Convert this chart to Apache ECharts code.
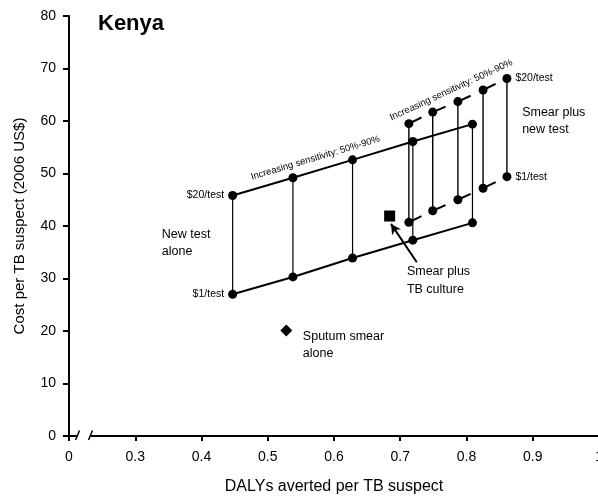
<!DOCTYPE html>
<html><head><meta charset="utf-8">
<script src="https://cdn.jsdelivr.net/npm/echarts@6/dist/echarts.min.js"></script>
<style>html,body{margin:0;padding:0;background:#fff}#c{width:598px;height:497px}</style>
</head><body><div id="c"></div>
<script>
// ---- data ----
const xTickLabels = {'0.2':'0','1.0':'1'};
const newTestX      = [0.447, 0.538, 0.628, 0.719, 0.809];
const newTestCost20 = [45.8, 49.2, 52.6, 56.1, 59.4];
const newTestCost1  = [27.0, 30.3, 33.9, 37.3, 40.6];
const smearNewX      = [0.713, 0.749, 0.787, 0.825, 0.861];
const smearNewCost20 = [59.5, 61.7, 63.7, 65.9, 68.1];
const smearNewCost1  = [40.7, 42.9, 45.0, 47.2, 49.4];
const smearCultureX = [0.684], smearCultureCost = [41.9];
const sputumX = [0.528], sputumCost = [20.1];

const FONT = '"Liberation Sans", Arial, Helvetica, sans-serif';
const zip = (xs, ys) => xs.map((x, i) => [x, ys[i]]);
const chart = echarts.init(document.getElementById('c'));

const series = [];
// vertical connectors (new test)
newTestX.forEach((x, i) => series.push({
  type: 'line', data: [[x, newTestCost1[i]], [x, newTestCost20[i]]], symbol: 'none',
  lineStyle: { color: '#000', width: 1.2 }, z: 2, silent: true
}));
// vertical connectors (smear + new test)
smearNewX.forEach((x, i) => series.push({
  type: 'line', data: [[x, smearNewCost1[i]], [x, smearNewCost20[i]]], symbol: 'none',
  lineStyle: { color: '#000', width: 1.4 }, z: 2, silent: true
}));
// dashed partial segments (smear + new test)
[smearNewCost20, smearNewCost1].forEach(ys => {
  for (let i = 0; i < smearNewX.length - 1; i++) {
    series.push({
      type: 'line', data: [[smearNewX[i], ys[i]], [smearNewX[i + 1], ys[i + 1]]], symbol: 'none',
      lineStyle: { color: '#000', width: 2, type: [14, 100] }, z: 3, silent: true
    });
  }
});
const lbl = (txt, pos) => ({ show: true, position: pos, formatter: txt, fontSize: 10.5, fontFamily: FONT, color: '#000', distance: 4 });
// new test lines
series.push({
  type: 'line', data: zip(newTestX, newTestCost20).map((d, i) => i === 0 ? { value: d, label: lbl('$20/test', 'left') } : d),
  symbol: 'circle', symbolSize: 9, itemStyle: { color: '#000' }, lineStyle: { color: '#000', width: 2 }, z: 5, silent: true
});
series.push({
  type: 'line', data: zip(newTestX, newTestCost1).map((d, i) => i === 0 ? { value: d, label: lbl('$1/test', 'left') } : d),
  symbol: 'circle', symbolSize: 9, itemStyle: { color: '#000' }, lineStyle: { color: '#000', width: 2 }, z: 5, silent: true
});
// smear + new test points
const last = smearNewX.length - 1;
series.push({
  type: 'scatter', data: zip(smearNewX, smearNewCost20).map((d, i) => i === last ? { value: d, label: lbl('$20/test', 'right') } : d),
  symbol: 'circle', symbolSize: 9, itemStyle: { color: '#000', opacity: 1 }, z: 5, silent: true
});
series.push({
  type: 'scatter', data: zip(smearNewX, smearNewCost1).map((d, i) => i === last ? { value: d, label: lbl('$1/test', 'right') } : d),
  symbol: 'circle', symbolSize: 9, itemStyle: { color: '#000', opacity: 1 }, z: 5, silent: true
});
// smear + culture (square) with arrow
series.push({
  type: 'scatter', data: zip(smearCultureX, smearCultureCost), symbol: 'rect', symbolSize: 11,
  itemStyle: { color: '#000', opacity: 1 }, z: 5, silent: true,
  markLine: {
    silent: true, symbol: ['none', 'arrow'], symbolSize: [8, 10], label: { show: false },
    lineStyle: { color: '#000', width: 2, type: 'solid' },
    data: [[{ coord: [0.725, 33.1] }, { coord: [0.686, 40.4] }]]
  }
});
// sputum smear alone (diamond)
series.push({
  type: 'scatter', data: zip(sputumX, sputumCost), symbol: 'diamond', symbolSize: 12,
  itemStyle: { color: '#000', opacity: 1 }, z: 5, silent: true
});

chart.setOption({
  animation: false,
  backgroundColor: '#fff',
  title: { text: 'Kenya', left: 98, top: 13, padding: 0,
    textStyle: { fontSize: 22, fontWeight: 'bold', fontFamily: FONT, color: '#000' } },
  grid: { left: 69, top: 16, width: 530, height: 420, containLabel: false, outerBoundsMode: 'none' },
  xAxis: {
    type: 'value', min: 0.2, max: 1.0, interval: 0.1,
    name: 'DALYs averted per TB suspect', nameLocation: 'middle', nameGap: 43,
    nameTextStyle: { fontSize: 16, fontFamily: FONT, color: '#000' },
    axisLine: { show: true, lineStyle: { color: '#000', width: 2 } },
    axisTick: { show: true, length: 5, lineStyle: { color: '#000', width: 2 } },
    axisLabel: { fontSize: 14, fontFamily: FONT, color: '#000', margin: 14, showMaxLabel: true, showMinLabel: true,
      formatter: v => xTickLabels[v.toFixed(1)] || v.toFixed(1) },
    splitLine: { show: false }
  },
  yAxis: {
    type: 'value', min: 0, max: 80, interval: 10,
    name: 'Cost per TB suspect (2006 US$)', nameLocation: 'middle', nameGap: 42,
    nameTextStyle: { fontSize: 15, fontFamily: FONT, color: '#000' },
    axisLine: { show: true, lineStyle: { color: '#000', width: 2 } },
    axisTick: { show: true, length: 6, lineStyle: { color: '#000', width: 2 } },
    axisLabel: { fontSize: 14, fontFamily: FONT, color: '#000', margin: 13 },
    splitLine: { show: false }
  },
  series
});

// ---- annotations positioned from data coordinates ----
const px = (x, y) => chart.convertToPixel({ gridIndex: 0 }, [x, y]);
const angleOf = (xs, ys) => {
  const a = px(xs[0], ys[0]), b = px(xs[xs.length - 1], ys[ys.length - 1]);
  return Math.atan2(a[1] - b[1], b[0] - a[0]);
};
const textEl = (txt, p, opts) => Object.assign({
  type: 'text', x: p[0], y: p[1], z: 50, silent: true,
  style: Object.assign({ text: txt, x: 0, y: 0, fill: '#000', fontSize: 12.5, fontFamily: FONT,
    lineHeight: 17.5, align: 'left', verticalAlign: 'middle' }, opts || {})
});
const o = px(0.2, 0);
const graphics = [
  textEl('New test\nalone', px(0.340, 36.8)),
  textEl('Smear plus\nTB culture', px(0.710, 29.6)),
  textEl('Sputum smear\nalone', px(0.553, 17.3)),
  textEl('Smear plus\nnew test', px(0.884, 60.0)),
  Object.assign(textEl('Increasing sensitivity: 50%-90%', px(0.572, 52.95), { fontSize: 9.5, align: 'center' }),
    { rotation: angleOf(newTestX, newTestCost20) }),
  Object.assign(textEl('Increasing sensitivity: 50%-90%', px(0.777, 65.9), { fontSize: 9.5, align: 'center' }),
    { rotation: angleOf(smearNewX, smearNewCost20) }),
  // x-axis break
  { type: 'rect', z: 60, silent: true, shape: { x: o[0] + 9, y: o[1] - 3, width: 12, height: 6 }, style: { fill: '#fff' } },
  { type: 'line', z: 61, silent: true, shape: { x1: o[0] + 6.5, y1: o[1] + 4, x2: o[0] + 10.5, y2: o[1] - 5.5 }, style: { stroke: '#000', lineWidth: 1.5 } },
  { type: 'line', z: 61, silent: true, shape: { x1: o[0] + 19.5, y1: o[1] + 4, x2: o[0] + 23.5, y2: o[1] - 5.5 }, style: { stroke: '#000', lineWidth: 1.5 } }
];
chart.setOption({ graphic: graphics });
</script>
</body></html>
